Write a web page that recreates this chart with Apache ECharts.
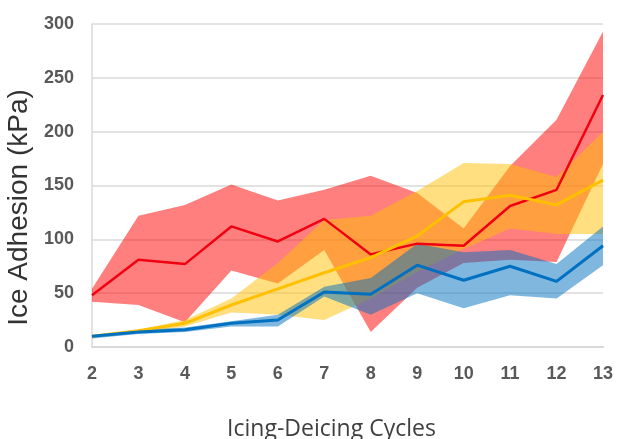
<!DOCTYPE html>
<html>
<head>
<meta charset="utf-8">
<script src="https://cdn.jsdelivr.net/npm/echarts@6/dist/echarts.min.js"></script>
<style>
html,body{margin:0;padding:0;background:#fff;}
#chart{width:618px;height:439px;}
</style>
</head>
<body>
<div id="chart"></div>
<script>
// Categories: icing-deicing cycles
var cycles = ['2','3','4','5','6','7','8','9','10','11','12','13'];
var yTicks = [0, 50, 100, 150, 200, 250, 300];

// Red series (mean and band)
var redMean  = [48, 81, 77, 112, 98, 119, 86, 96, 94, 131, 146, 234];
var redLow   = [42, 39, 23, 71, 59, 90, 14, 55, 78, 81, 79, 170];
var redHigh  = [54, 122, 132, 151, 136, 146, 159, 143, 110, 168, 211, 293];

// Yellow series (mean and band)
var yelMean  = [10, 15, 22, 39, 54, 69, 83, 103, 135, 141, 132, 155];
var yelLow   = [9, 13, 19, 32, 30, 25, 45, 70, 91, 110, 105, 105];
var yelHigh  = [11, 16, 25, 45, 78, 118, 122, 145, 171, 170, 158, 200];

// Blue series (mean and band)
var bluMean  = [10, 14, 16, 22, 25, 51, 49, 76, 62, 75, 61, 94];
var bluLow   = [8, 12, 14, 19, 19, 47, 30, 50, 36, 48, 45, 76];
var bluHigh  = [11, 16, 18, 24, 30, 56, 64, 96, 88, 90, 77, 112];

function diff(hi, lo){ return hi.map(function(v,i){ return v - lo[i]; }); }

function band(name, lo, hi, color){
  return [
    {name: name+'-lo', type:'line', data: lo, stack: name, symbol:'none',
     lineStyle:{opacity:0}, silent:true},
    {name: name+'-band', type:'line', data: diff(hi, lo), stack: name, symbol:'none',
     lineStyle:{opacity:0}, areaStyle:{color: color, opacity:1}, silent:true}
  ];
}
function meanLine(name, data, color, w){
  return {name: name, type:'line', data: data, symbol:'none',
          lineStyle:{color: color, width: w}, silent:true};
}

var chart = echarts.init(document.getElementById('chart'), null, {renderer:'canvas'});
var series = [].concat(
  band('red', redLow, redHigh, 'rgba(255,0,0,0.5)'),
  [meanLine('Red', redMean, '#F00010', 2.5)],
  band('yel', yelLow, yelHigh, 'rgba(255,192,0,0.5)'),
  [meanLine('Yellow', yelMean, '#FFC000', 3)],
  band('blu', bluLow, bluHigh, 'rgba(0,112,192,0.5)'),
  [meanLine('Blue', bluMean, '#0070C0', 3)]
);

chart.setOption({
  animation: false,
  backgroundColor: '#ffffff',
  grid: {left: 92, right: 15, top: 24, bottom: 92, containLabel: false, outerBoundsMode: 'none'},
  xAxis: {
    type: 'category', data: cycles, boundaryGap: false,
    name: 'Icing-Deicing Cycles', nameLocation: 'middle', nameGap: 71,
    nameTextStyle: {fontFamily: 'Open Sans', fontSize: 23, color: '#404040', padding: [0, 32, 0, 0]},
    axisLine: {show: true, lineStyle: {color: '#d9d9d9', width: 2}},
    axisTick: {show: false},
    axisLabel: {fontFamily: 'Liberation Sans', fontWeight: 'bold', fontSize: 18, color: '#595959', margin: 18},
    splitLine: {show: false}
  },
  yAxis: {
    type: 'value', min: yTicks[0], max: yTicks[yTicks.length-1], interval: 50,
    name: 'Ice Adhesion (kPa)', nameLocation: 'middle', nameGap: 56,
    nameTextStyle: {fontFamily: 'Liberation Sans', fontSize: 28, color: '#333333', padding: [0, 44, 0, 0]},
    axisLine: {show: true, lineStyle: {color: '#d9d9d9', width: 1.5}},
    axisTick: {show: false},
    axisLabel: {fontFamily: 'Liberation Sans', fontWeight: 'bold', fontSize: 18, color: '#595959', margin: 18},
    splitLine: {show: true, lineStyle: {color: '#d9d9d9', width: 1.5}}
  },
  series: series
});
</script>
</body>
</html>
